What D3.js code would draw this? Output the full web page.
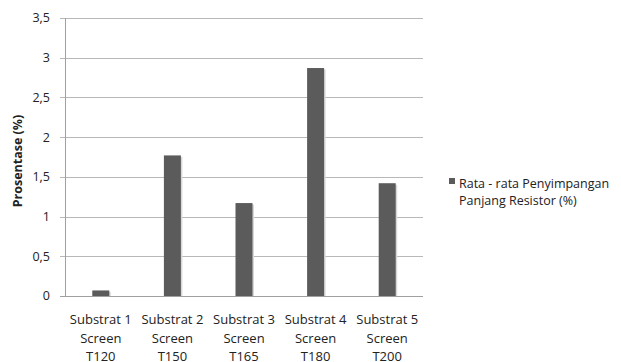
<!DOCTYPE html>
<html><head><meta charset="utf-8">
<script src="https://cdn.jsdelivr.net/npm/d3@7"></script>
<style>
html,body{margin:0;padding:0;background:#fff;}
text{font-family:"Open Sans","Noto Sans",sans-serif;fill:#222;}
</style></head>
<body><svg id="c" width="621" height="362"></svg>
<script>
const categories = [
  ["Substrat 1","Screen","T120"],
  ["Substrat 2","Screen","T150"],
  ["Substrat 3","Screen","T165"],
  ["Substrat 4","Screen","T180"],
  ["Substrat 5","Screen","T200"]
];
const values = [0.07, 1.77, 1.17, 2.87, 1.42];
const yTicks = [0, 0.5, 1, 1.5, 2, 2.5, 3, 3.5];
const seriesName = ["Rata - rata Penyimpangan","Panjang Resistor (%)"];
const yTitle = "Prosentase (%)";

const svg = d3.select("#c");
const x0 = 65, x1 = 423, yTop = 18, yBot = 296;
const x = d3.scaleBand().domain(d3.range(categories.length)).range([x0, x1]);
const y = d3.scaleLinear().domain([0, 3.5]).range([yBot, yTop]);
const barW = 17;

// gridlines
svg.append("g").selectAll("line").data(yTicks).join("line")
  .attr("x1", x0 - 5).attr("x2", x1)
  .attr("y1", d => Math.round(y(d)) + 0.5).attr("y2", d => Math.round(y(d)) + 0.5)
  .attr("stroke", d => d === 0 ? "#a0a0a0" : "#b8b8b8").attr("stroke-width", 1);

// y axis line
svg.append("line").attr("x1", x0 + 0.5).attr("x2", x0 + 0.5)
  .attr("y1", yTop).attr("y2", yBot + 0.5).attr("stroke", "#a0a0a0");

// y tick labels
svg.append("g").selectAll("text").data(yTicks).join("text")
  .attr("x", 50).attr("y", d => y(d)).attr("dy", "0.35em")
  .attr("text-anchor", "end").style("font-size", "12.5px")
  .text(d => d3.format(".1~f")(d).replace(".", ","));

// shadows
svg.append("g").selectAll("rect").data(values).join("rect")
  .attr("x", (d, i) => x(i) + x.bandwidth() / 2 - barW / 2 + 1.5)
  .attr("y", d => y(d) + 1.5)
  .attr("width", barW).attr("height", d => yBot - y(d) - 1.5)
  .attr("fill", "#d8d8d8");

// bars
svg.append("g").selectAll("rect").data(values).join("rect")
  .attr("x", (d, i) => x(i) + x.bandwidth() / 2 - barW / 2)
  .attr("y", d => y(d))
  .attr("width", barW).attr("height", d => yBot - y(d))
  .attr("fill", "#5b5b5b");

// x labels
const xl = svg.append("g").selectAll("text").data(categories).join("text")
  .attr("text-anchor", "middle").style("font-size", "13px");
xl.selectAll("tspan").data((d, i) => d.map(t => [t, i])).join("tspan")
  .attr("x", d => x(d[1]) + x.bandwidth() / 2)
  .attr("y", (d, j) => 324 + j * 18.5)
  .text(d => d[0]);

// y title
svg.append("text").attr("transform", "translate(22,161) rotate(-90)")
  .attr("text-anchor", "middle").style("font-size", "12.5px").style("font-weight", "bold")
  .text(yTitle);

// legend
svg.append("rect").attr("x", 449).attr("y", 178).attr("width", 6).attr("height", 6).attr("fill", "#5b5b5b");
svg.append("g").selectAll("text").data(seriesName).join("text")
  .attr("x", 459).attr("y", (d, i) => 184 + i * 17).attr("dy", "0.35em")
  .style("font-size", "12.5px").text(d => d);
</script></body></html>
